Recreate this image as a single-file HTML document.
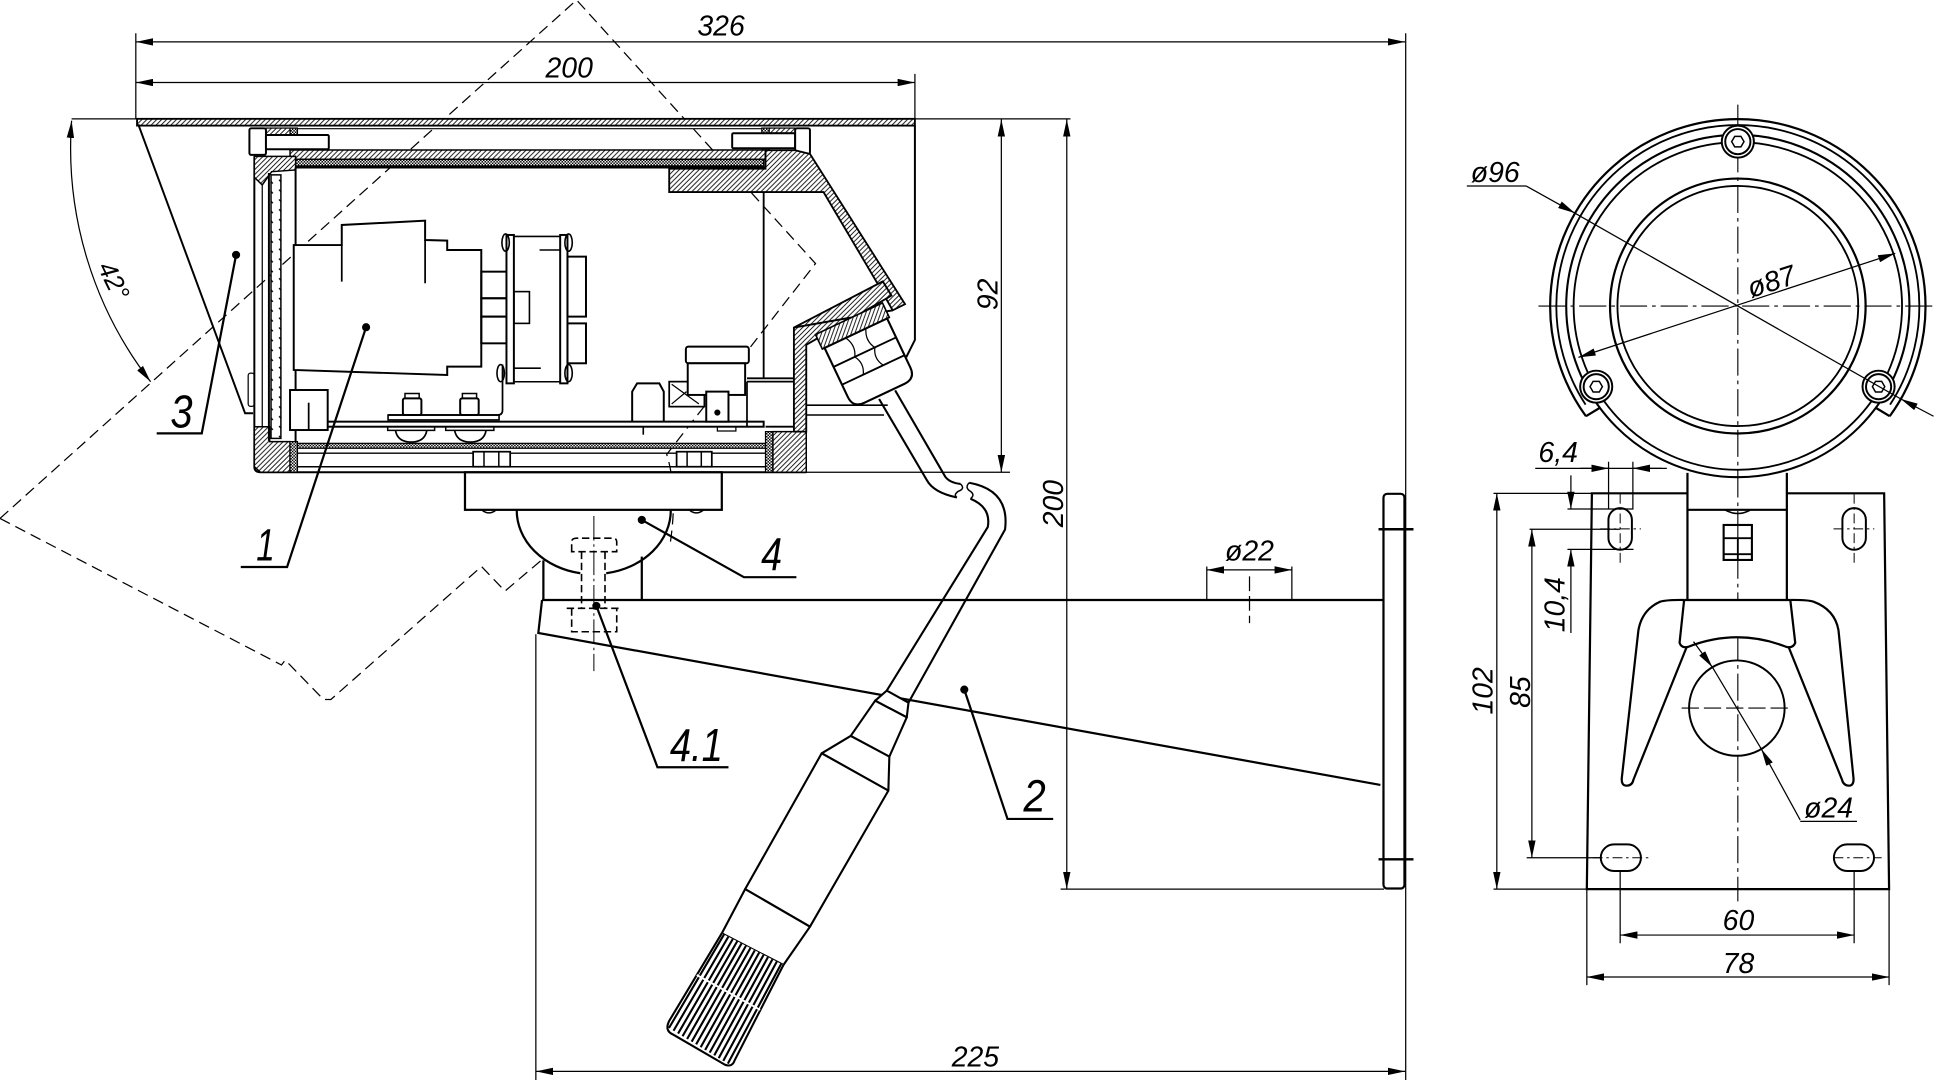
<!DOCTYPE html>
<html><head><meta charset="utf-8">
<style>
html,body{margin:0;padding:0;background:#fff;overflow:hidden}
svg{display:block}
text{font-family:"Liberation Sans","DejaVu Sans",sans-serif;font-style:italic;fill:#000;stroke:none}
</style></head><body>
<svg xmlns="http://www.w3.org/2000/svg" width="1936" height="1080" viewBox="0 0 1568 877" preserveAspectRatio="none">
<defs>
<pattern id="h" patternUnits="userSpaceOnUse" width="4" height="4"><rect width="4" height="4" fill="#fff"/><path d="M-1,5 L5,-1 M-1,1 L1,-1 M3,5 L5,3" stroke="#000" stroke-width="0.7"/></pattern>
<pattern id="x" patternUnits="userSpaceOnUse" width="2.4" height="2.4"><rect width="2.4" height="2.4" fill="#fff"/><rect width="1.2" height="1.2" fill="#000"/><rect x="1.2" y="1.2" width="1.2" height="1.2" fill="#000"/></pattern>
<pattern id="g" patternUnits="userSpaceOnUse" width="8" height="8"><rect width="8" height="8" fill="#fff"/><path d="M2,2 L5,5" stroke="#000" stroke-width="1.1"/></pattern>
<marker id="ar" viewBox="0 0 14 6" refX="14" refY="3" markerWidth="14" markerHeight="6" orient="auto-start-reverse" markerUnits="userSpaceOnUse"><path d="M0,0 L14,3 L0,6 Z" fill="#000"/></marker>
</defs>
<rect width="1568" height="877" fill="#fff"/>

<!-- ===== dimension & thin lines (left view) ===== -->
<g fill="none" stroke="#000" stroke-width="1">
<line x1="110" y1="34" x2="1138" y2="34" marker-start="url(#ar)" marker-end="url(#ar)"/>
<line x1="110" y1="67" x2="741" y2="67" marker-start="url(#ar)" marker-end="url(#ar)"/>
<path d="M110,27V97 M741,60V97 M1138.5,27V877 M58,96.5H867"/>
<line x1="811" y1="97" x2="811" y2="383.5" marker-start="url(#ar)" marker-end="url(#ar)"/>
<line x1="864" y1="97" x2="864" y2="722" marker-start="url(#ar)" marker-end="url(#ar)"/>
<path d="M653,383.5H818 M859,722H1121"/>
<line x1="434" y1="870" x2="1138" y2="870" marker-start="url(#ar)" marker-end="url(#ar)"/>
<path d="M434,515V877"/>
<path d="M58,98 A310,310 0 0 0 122,310" marker-start="url(#ar)" marker-end="url(#ar)"/>
<!-- ø22 -->
<path d="M977.4,460V488 M1046.3,460V488"/>
<line x1="977.4" y1="462.8" x2="1046.3" y2="462.8" marker-start="url(#ar)" marker-end="url(#ar)"/>
<path d="M1012,468V506" stroke-dasharray="12,4"/>
<!-- bolt 4.1 center line -->
<path d="M481,419V545" stroke-width="0.8" stroke-dasharray="20,3,2,3"/>
</g>

<!-- dashed rotated outline -->
<g fill="none" stroke="#000" stroke-width="1" stroke-dasharray="9,5">
<path d="M0,421 L467,0 L660.5,214 L540,369 Q549,398 543,440"/>
<path d="M0,421 L228,540 L231,536 L262,568 L268,568 L390,460 L409,480 L438.7,454.7"/>
</g>

<!-- ===== sunshield ===== -->
<g stroke="#000" fill="none">
<rect x="111" y="96.5" width="630" height="5.5" fill="url(#h)" stroke-width="1.5"/>
<path d="M112,101 L198.5,335.6 L205,335.6" stroke-width="1.6"/>
<path d="M741,102 L741,276 L734,290" stroke-width="1.6"/>
<path d="M215,104.5 H644" stroke-width="1"/>
</g>

<!-- ===== housing ===== -->
<g stroke="#000" fill="none" stroke-width="1.6">
<!-- top clamps -->
<rect x="234.9" y="104" width="6" height="17.8" fill="url(#x)" stroke-width="1"/>
<rect x="617" y="104" width="6" height="17.8" fill="url(#x)" stroke-width="1"/>
<rect x="215.4" y="104" width="19.5" height="5.6" fill="url(#h)" stroke-width="1"/>
<rect x="623" y="104" width="21" height="4" fill="url(#h)" stroke-width="1"/>
<rect x="202" y="104.2" width="13.4" height="21.6" rx="1.5" fill="#fff"/>
<rect x="215.4" y="109.6" width="50.9" height="11.6" rx="1" fill="#fff"/>
<rect x="593" y="108.2" width="51" height="12.2" rx="1" fill="#fff"/>
<rect x="644" y="104.2" width="12" height="21" rx="1.5" fill="#fff"/>
<rect x="234.9" y="121.8" width="385.1" height="7.6" fill="url(#h)" stroke-width="1.2"/>
<rect x="239.4" y="129.4" width="379.1" height="5.4" fill="url(#x)" stroke-width="1.2"/>
<path d="M234.9,136 H620"/>
<!-- left wall -->
<path d="M206,127 V379 Q206,383.5 211,383.5 H653"/>
<polygon points="206,127 239.4,127 239.4,138 220,139.4 212.4,150.2 206,144" fill="url(#h)" stroke-width="1.2"/>
<polygon points="206,346.5 218.4,346.5 218.4,358.6 234.9,358.6 234.9,383.5 211,383.5 206,379" fill="url(#h)" stroke-width="1.2"/>
<path d="M212.4,150 V346.5" stroke-width="1"/>
<path d="M217.8,140.5 V358"/>
<rect x="219.5" y="142" width="8" height="214" fill="url(#g)" stroke-width="1.2"/>
<path d="M239.4,136 V360"/>
<rect x="201" y="303" width="5" height="27" rx="2" stroke-width="1"/>
<!-- bottom -->
<rect x="239.4" y="360" width="380.6" height="4" fill="url(#x)" stroke-width="1"/>
<path d="M241,368 H620 M241,379 H620" stroke-width="1.2"/>
<rect x="234.9" y="358.6" width="6" height="24.9" fill="url(#x)" stroke-width="1"/>
<rect x="620" y="350.5" width="6" height="33" fill="url(#x)" stroke-width="1"/>
<rect x="626" y="350.5" width="27" height="33" fill="url(#h)" stroke-width="1.2"/>
<!-- right wall -->
<polygon points="542,137 620,137 620,122 644,122 656,125 733,247 723,252 710,229 667,156 542,156" fill="url(#h)" stroke-width="1.5"/>
<polygon points="643,266 715,228.5 722,240 653,280 653,350.5 643,350.5" fill="url(#h)" stroke-width="1.5"/>
<path d="M723,252 L643,266"/>
<path d="M618.5,156 V307.2 M605,307.2 H643 M620,346.5 H643" stroke-width="1.5"/>
<path d="M653,329 H719 M653,337 H716" stroke-width="1.3"/>
<!-- camera module 1 -->
<polygon points="237.9,199 276.8,199 276.8,182.7 344.3,179.2 344.3,194.9 362.2,195.4 362.2,203 389.8,203 389.8,297.7 362.2,297.7 362.2,304.5 237.9,300.4" fill="#fff"/>
<path d="M276.8,199 V228.7 M344.3,194.9 V230" stroke-width="1.4"/>
<rect x="389.8" y="220.6" width="20.4" height="21.6"/>
<rect x="389.8" y="242.2" width="20.4" height="14.9"/>
<rect x="389.8" y="257.1" width="20.4" height="21.7"/>
<!-- lens frame -->
<rect x="410.2" y="190.8" width="6" height="120.5" fill="#fff"/>
<rect x="453.7" y="190.8" width="5.9" height="120.5" fill="#fff"/>
<path d="M416,192 H454 M416,310 H454 M437,203 H453.7 M416,299 H438" stroke-width="1.3"/>
<ellipse cx="409.5" cy="197" rx="3" ry="7" stroke-width="1.3"/>
<ellipse cx="460.5" cy="197" rx="3" ry="7" stroke-width="1.3"/>
<ellipse cx="405.5" cy="303" rx="3" ry="7" stroke-width="1.3"/>
<ellipse cx="460.5" cy="303" rx="3" ry="7" stroke-width="1.3"/>
<rect x="459.6" y="208.4" width="15" height="48.7"/>
<rect x="459.6" y="262.6" width="15" height="32.4"/>
<rect x="416.2" y="236.8" width="12.6" height="25.8" stroke-width="1.3"/>
<path d="M407,296 V333 Q407,337 403,337 H314.3" stroke-width="1.4"/>
<!-- PCB and parts -->
<rect x="314.3" y="337" width="89.9" height="4" stroke-width="1.3"/>
<rect x="243.9" y="342.4" width="374.6" height="4.1" fill="#fff"/>
<rect x="326.3" y="323.5" width="15" height="13.5" rx="1.5"/>
<rect x="372.7" y="323.5" width="15" height="13.5" rx="1.5"/>
<path d="M328,323.5 V319.5 H339.5 V323.5 M374.5,323.5 V319.5 H386 V323.5" stroke-width="1.2"/>
<path d="M314,346.5 V349.5 H352 V346.5 M361,346.5 V349.5 H400 V346.5" stroke-width="1.2"/>
<path d="M320.3,349.5 Q322,359 333,359 Q344,359 345.7,349.5 M368.2,349.5 Q370,359 381,359 Q392,359 393.7,349.5" stroke-width="1.4"/>
<rect x="234.9" y="316.7" width="30.5" height="32.5" fill="#fff"/>
<path d="M250,327 V349" stroke-width="1.4"/>
<path d="M512,342.4 V318 L516,311.3 H534 L537.6,318 V342.4"/>
<rect x="542" y="309.9" width="28.5" height="20.3" stroke-width="1.4"/>
<path d="M544,312 L566,328 M544,328 L556,318" stroke-width="1"/>
<rect x="555.5" y="281.5" width="51" height="13.5" rx="2" fill="#fff"/>
<rect x="557" y="295" width="46.5" height="25.7" fill="#fff"/>
<rect x="572" y="318" width="18" height="24.4" fill="#fff"/>
<circle cx="581" cy="335" r="2" fill="#000" stroke-width="1"/>
<path d="M605,309.9 H643 M605,309.9 V346.5" stroke-width="1.4"/>
<path d="M521,346.5 V353" stroke-width="1.3"/>
<path d="M581,346.5 V350 H596 V346.5" stroke-width="1"/>
<!-- bottom nuts -->
<rect x="383.2" y="366.8" width="30" height="12.2" fill="#fff" stroke-width="1.4"/>
<path d="M392,366.8 V379 M404,366.8 V379" stroke-width="1.2"/>
<rect x="548" y="366.8" width="28.5" height="12.2" fill="#fff" stroke-width="1.4"/>
<path d="M556.5,366.8 V379 M568,366.8 V379" stroke-width="1.2"/>
</g>

<!-- ===== mount 4 ===== -->
<g stroke="#000" fill="none" stroke-width="1.8">
<rect x="376.6" y="383.5" width="208" height="30.5" fill="#fff"/>
<path d="M390,414 Q396,419 402,414 M558,414 Q564,419 570,414" stroke-width="1.2"/>
<path d="M418.5,414 A62.4,52 0 0 0 470,465.5"/>
<path d="M491,465.5 A62.4,52 0 0 0 543.3,414"/>
<path d="M440.1,455 V487.2 M519.8,452 V487.2"/>
<!-- arm -->
<path d="M439,487.2 H1121"/>
<path d="M439,487.2 L436,514 L1118,637.4"/>
<rect x="1120.5" y="401" width="17" height="320.5" rx="3" fill="#fff"/>
<path d="M1116.5,429.8 H1144.8 M1116.5,697.8 H1144.8" stroke-width="2"/>
</g>
<!-- bolt 4.1 dashed -->
<g stroke="#000" fill="none" stroke-width="1.3" stroke-dasharray="6,3">
<path d="M463,448 V440 Q463,437 467,437 H496 Q499.5,437 499.5,440 V448 Z"/>
<path d="M471,448 V494 M490,448 V494"/>
<path d="M459,494 H503.5 M463,494 V513 H499.5 V494"/>
</g>

<!-- ===== cable gland ===== -->
<g stroke="#000" fill="none" stroke-width="1.7" transform="translate(704.7,295) rotate(-25.3)">
<rect x="-30" y="-40" width="60" height="13" fill="url(#h)" stroke-width="1.3"/>
<path d="M-28,-27 H28 V17 Q28,27 18,27 H-18 Q-28,27 -28,17 Z" fill="#fff"/>
<path d="M-28,-10 H28 M-28,6 H28" stroke-width="1.5"/>
<path d="M-9,-27 Q-4,-18 -9,-10 M9,-27 Q4,-18 9,-10 M-9,-10 Q-4,-2 -9,6 M9,-10 Q4,-2 9,6" stroke-width="1"/>
</g>
<!-- cable -->
<g stroke="#000" fill="none" stroke-width="1.7">
<path d="M712,324 L750.6,389.8 Q756,400 775,404"/>
<path d="M725,317 L765.5,387 Q769,392 778,393"/>
<path d="M778,393 Q782,397 776,399 Q772,402 775,404" stroke-width="1.2"/>
<path d="M785,392 Q781,396 786,399 Q790,402 786,405" stroke-width="1.2"/>
<path d="M785,392 Q818,398 814,430 L735.8,570.6"/>
<path d="M786,405 Q803,412 800,428 L718.2,560.8"/>
</g>

<!-- ===== probe ===== -->
<g stroke="#000" fill="none" stroke-width="1.7" stroke-linejoin="round">
<polygon points="718.2,560.8 735.8,570.6 734.4,582.5 708.8,569" fill="#fff"/>
<polygon points="708.8,569 734.4,582.5 720.3,614.4 689,597.6" fill="#fff"/>
<polygon points="689,597.6 720.3,614.4 719.5,642 665.5,611.7" fill="#fff"/>
<polygon points="665.5,611.7 719.5,642 656,752.5 603.5,722" fill="#fff"/>
<polygon points="603.5,722 656,752.5 634.5,783.6 584.6,757.9" fill="#fff"/>
<path d="M584.6,757.9 L542,829 Q538,837 545,840 L587,864.5 Q593,867 595,861 L634.5,783.6" fill="#fff"/>
<g stroke-width="1.7">
<path d="M586.4,758.8 L541.8,834.8 M589.9,760.7 L545.5,837 M593.5,762.5 L549.2,839.3 M597.1,764.3 L552.8,841.5 M600.6,766.1 L556.5,843.7 M604.2,768 L560.2,845.9 M607.8,769.8 L563.8,848.1 M611.3,771.7 L567.5,850.4 M614.9,773.5 L571.1,852.6 M618.5,775.3 L574.8,854.8 M622,777.2 L578.5,857 M625.6,779 L582.1,859.2 M629.2,780.8 L585.8,861.5 M632.7,782.7 L589.5,863.7"/>
</g>
<path d="M564.3,791.7 L615.6,820" stroke="#fff" stroke-width="1.6"/>
</g>

<!-- ===== leaders & labels (left view) ===== -->
<g stroke="#000" fill="none" stroke-width="1.8">
<path d="M191.2,207 L163.4,351.9 H126.9"/>
<path d="M296.5,265.7 L232.5,460.4 H195"/>
<path d="M519.8,422.2 L602.5,468.7 H645"/>
<path d="M483,492 L532.5,623 H590"/>
<path d="M781,560 L816,665 H853"/>
</g>
<g fill="#000">
<circle cx="191.2" cy="207" r="3.3"/>
<circle cx="296.5" cy="265.7" r="3.3"/>
<circle cx="519.8" cy="422.2" r="3.3"/>
<circle cx="483" cy="492" r="3.3"/>
<circle cx="781" cy="560" r="3.3"/>
</g>
<text x="147" y="347" text-anchor="middle" font-size="38" textLength="18" lengthAdjust="spacingAndGlyphs">3</text>
<text x="215" y="455" text-anchor="middle" font-size="37" textLength="15" lengthAdjust="spacingAndGlyphs">1</text>
<text x="625" y="463" text-anchor="middle" font-size="38" textLength="17" lengthAdjust="spacingAndGlyphs">4</text>
<text x="564" y="618" text-anchor="middle" font-size="38" textLength="43" lengthAdjust="spacingAndGlyphs">4.1</text>
<text x="838" y="659" text-anchor="middle" font-size="37" textLength="18" lengthAdjust="spacingAndGlyphs">2</text>

<!-- dimension texts left -->
<g font-size="23">
<text x="584" y="29" text-anchor="middle">326</text>
<text x="461" y="63" text-anchor="middle">200</text>
<text transform="translate(808,239) rotate(-90)" text-anchor="middle">92</text>
<text transform="translate(861,409) rotate(-90)" text-anchor="middle">200</text>
<text x="790" y="866" text-anchor="middle">225</text>
<text x="1012" y="455" text-anchor="middle">ø22</text>
<text transform="translate(92,228) rotate(64)" text-anchor="middle" dy="7" font-size="21">42°</text>
</g>

<!-- ===== right (front) view ===== -->
<g stroke="#000" fill="none">
<!-- center lines -->
<path d="M1246,248.5 H1568 M1407.5,85 V732" stroke-width="0.9" stroke-dasharray="22,4,3,4"/>
<!-- flange rings -->
<path d="M1284.5,338 A152,152 0 1 1 1530.5,338" stroke-width="1.8"/>
<path d="M1284.5,338 L1296,331 M1530.5,338 L1519,331" stroke-width="1.8"/>
<path d="M1284.2,328.6 A147,147 0 1 1 1530.8,328.6" stroke-width="1.5"/>
<circle cx="1407.5" cy="248.5" r="139" stroke-width="1.7"/>
<circle cx="1407.5" cy="248.5" r="133" stroke-width="1.5"/>
<circle cx="1407.5" cy="248.5" r="103.5" stroke-width="1.8"/>
<circle cx="1407.5" cy="248.5" r="97.5" stroke-width="1.5"/>
<!-- screws -->
<g stroke-width="1.6">
<circle cx="1407.5" cy="115" r="13" fill="#fff"/><circle cx="1407.5" cy="115" r="10.2"/>
<polygon points="1412.5,115 1410,119.3 1405,119.3 1402.5,115 1405,110.7 1410,110.7" stroke-width="1.2"/>
<circle cx="1292.8" cy="314" r="13" fill="#fff"/><circle cx="1292.8" cy="314" r="10.2"/>
<polygon points="1297.8,314 1295.3,318.3 1290.3,318.3 1287.8,314 1290.3,309.7 1295.3,309.7" stroke-width="1.2"/>
<circle cx="1521.5" cy="314" r="13" fill="#fff"/><circle cx="1521.5" cy="314" r="10.2"/>
<polygon points="1526.5,314 1524,318.3 1519,318.3 1516.5,314 1519,309.7 1524,309.7" stroke-width="1.2"/>
</g>
<!-- ø96 / ø87 -->
<g stroke-width="1">
<path d="M1188,151 H1236"/>
<line x1="1236" y1="151" x2="1275.6" y2="173.1" marker-end="url(#ar)"/>
<path d="M1275.6,173.1 L1539.4,323.9"/>
<line x1="1566" y1="338" x2="1539.4" y2="323.9" marker-end="url(#ar)"/>
<line x1="1278.4" y1="290.2" x2="1535" y2="205.7" marker-start="url(#ar)" marker-end="url(#ar)"/>
</g>
<!-- neck and plate -->
<path d="M1366.7,384 V487.2 M1447.2,384 V487.2" stroke-width="1.8"/>
<path d="M1366.7,414 H1447.2" stroke-width="1.8"/>
<path d="M1397,414 Q1407.5,420 1418,414" stroke-width="1.2"/>
<rect x="1396" y="426.3" width="22.9" height="28.4" stroke-width="1.7"/>
<path d="M1396,437 H1418.9 M1407.5,437 V454.7 M1396,450 H1418.9" stroke-width="1.5"/>
<path d="M1366.7,400.6 H1289.3 L1285.2,722 H1530 L1526,400.6 H1447.2" stroke-width="1.8"/>
<!-- clamp & fork -->
<path d="M1364,487.2 H1450 M1364,487.2 L1360.3,522 Q1362,527 1368,525 Q1407,510 1446,525 Q1452,527 1454,522 L1450,487.2" stroke-width="1.8" fill="#fff"/>
<path d="M1364,487.2 Q1350,487 1344.6,488.6 Q1330,495 1327,511.6 L1313.5,632 Q1313,638 1317.6,638 Q1322,638 1323,633 L1366.2,525.1" stroke-width="1.8"/>
<path d="M1450,487.2 Q1464,487 1468.8,488.6 Q1486,495 1489,511.6 L1501.2,632 Q1501.5,638 1497.6,638 Q1493,638 1491.8,633 L1448.5,525.1" stroke-width="1.8"/>
<circle cx="1406.7" cy="575" r="38.7" stroke-width="1.6"/>
<path d="M1362,575 H1452" stroke-width="0.9" stroke-dasharray="14,4"/>
<!-- slots -->
<g stroke-width="1.6">
<rect x="1302.7" y="412.6" width="19" height="33.8" rx="9.5"/>
<rect x="1492.2" y="412.6" width="19" height="33.8" rx="9.5"/>
<rect x="1296.5" y="685.7" width="32.5" height="21.6" rx="10.8"/>
<rect x="1485.3" y="685.7" width="32.5" height="21.6" rx="10.8"/>
</g>
<g stroke-width="0.8" stroke-dasharray="8,3,2,3">
<path d="M1296,429.5 H1329 M1312.2,401 V458"/>
<path d="M1485,429.5 H1518 M1501.7,401 V458"/>
<path d="M1290,696.5 H1336 M1485,696.5 H1524"/>
</g>
<!-- front view dims -->
<g stroke-width="1">
<path d="M1243.4,380.3 H1350"/>
<line x1="1280" y1="380.3" x2="1302.8" y2="380.3" marker-end="url(#ar)"/>
<line x1="1346" y1="380.3" x2="1322.5" y2="380.3" marker-end="url(#ar)"/>
<path d="M1302.8,375 V413 M1322.5,375 V413"/>
<path d="M1269.5,413.3 H1323 M1269.5,446.1 H1323"/>
<line x1="1272.3" y1="386" x2="1272.3" y2="413.3" marker-end="url(#ar)"/>
<line x1="1272.3" y1="514" x2="1272.3" y2="446.1" marker-end="url(#ar)"/>
<path d="M1238.8,429.8 H1312 M1236.5,696.5 H1296.5"/>
<line x1="1240.7" y1="429.8" x2="1240.7" y2="696.5" marker-start="url(#ar)" marker-end="url(#ar)"/>
<path d="M1209.6,400.6 H1289.3 M1209.6,722 H1285.2"/>
<line x1="1212.3" y1="400.6" x2="1212.3" y2="722" marker-start="url(#ar)" marker-end="url(#ar)"/>
<path d="M1312.2,707 V766 M1501.7,707 V766"/>
<line x1="1312.2" y1="759.3" x2="1501.7" y2="759.3" marker-start="url(#ar)" marker-end="url(#ar)"/>
<path d="M1285.2,722 V800 M1530,722 V800"/>
<line x1="1285.2" y1="793.4" x2="1530" y2="793.4" marker-start="url(#ar)" marker-end="url(#ar)"/>
<!-- ø24 -->
<line x1="1371.6" y1="521" x2="1386.9" y2="541.8" marker-end="url(#ar)"/>
<path d="M1386.9,541.8 L1426.5,608.2"/>
<line x1="1458" y1="665.8" x2="1426.5" y2="608.2" marker-end="url(#ar)"/>
<path d="M1458,667 H1504"/>
</g>
</g>
<g font-size="23">
<text x="1211" y="148" text-anchor="middle">ø96</text>
<text transform="translate(1437,236) rotate(-18)" text-anchor="middle">ø87</text>
<text x="1262" y="375" text-anchor="middle">6,4</text>
<text transform="translate(1267,491) rotate(-90)" text-anchor="middle">10,4</text>
<text transform="translate(1209,561) rotate(-90)" text-anchor="middle">102</text>
<text transform="translate(1239,562) rotate(-90)" text-anchor="middle">85</text>
<text x="1481" y="664" text-anchor="middle">ø24</text>
<text x="1408" y="755" text-anchor="middle">60</text>
<text x="1408" y="790" text-anchor="middle">78</text>
</g>
</svg>
</body></html>
